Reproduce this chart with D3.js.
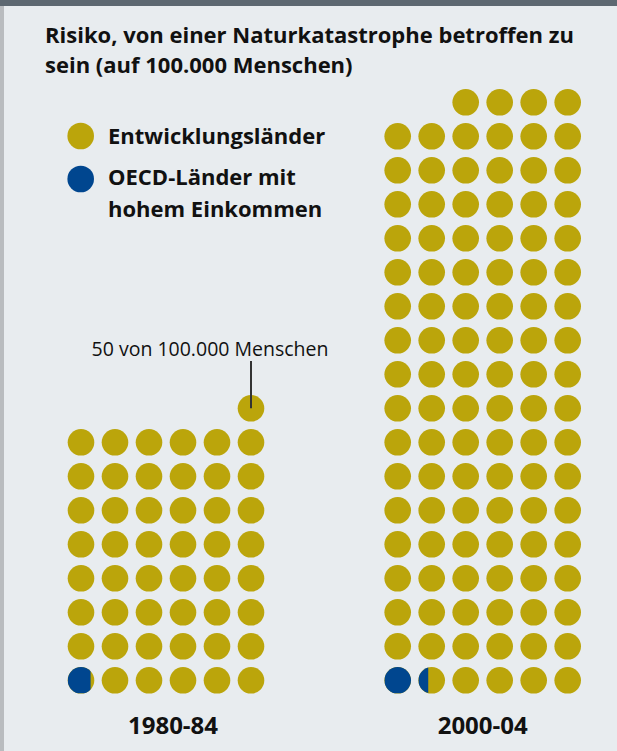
<!DOCTYPE html>
<html>
<head>
<meta charset="utf-8">
<script src="https://cdn.jsdelivr.net/npm/d3@7"></script>
<style>
  html, body { margin: 0; padding: 0; background: #e8ecef; }
  svg { display: block; }
  text { font-family: "Open Sans", "Noto Sans", sans-serif; fill: #111; }
</style>
</head>
<body>
<svg id="chart" width="617" height="751"></svg>
<script>
// Risk of being affected by a natural disaster, per 100,000 people
const periods = ["1980-84", "2000-04"];
const oecdRisk = [0.86, 1.37];          // high-income OECD countries
const developingRisk = [48.14, 104.63]; // developing countries
const seriesNames = ["Entwicklungsländer", "OECD-Länder mit hohem Einkommen"];
const titleLines = ["Risiko, von einer Naturkatastrophe betroffen zu", "sein (auf 100.000 Menschen)"];
const annotationText = "50 von 100.000 Menschen";

const colors = { developing: "#bba50b", oecd: "#00468f" };
const W = 617, H = 751;
const perRow = 6;
const r = 13.3;

const svg = d3.select("#chart");

// background, top bar and left rule
svg.append("rect").attr("width", W).attr("height", H).attr("fill", "#e8ecef");
svg.append("rect").attr("width", W).attr("height", 6).attr("fill", "#5d6871");
svg.append("rect").attr("y", 6).attr("width", 4).attr("height", H - 6).attr("fill", "#b9bcbf");

// title
svg.append("text")
  .attr("x", 45).attr("y", 43)
  .style("font-weight", 700).style("font-size", "22px")
  .selectAll("tspan").data(titleLines).join("tspan")
  .attr("x", 45).attr("dy", (d, i) => i === 0 ? 0 : 29.5)
  .text(d => d);

// legend
const legend = svg.append("g");
const legendItems = [
  { color: colors.developing, lines: [seriesNames[0]], cy: 136, base: 144 },
  { color: colors.oecd, lines: ["OECD-Länder mit", "hohem Einkommen"], cy: 179, base: 185 }
];
legendItems.forEach(item => {
  legend.append("circle").attr("cx", 80.7).attr("cy", item.cy).attr("r", r).attr("fill", item.color);
  legend.append("text")
    .attr("x", 108).attr("y", item.base)
    .style("font-weight", 700).style("font-size", "22px")
    .selectAll("tspan").data(item.lines).join("tspan")
    .attr("x", 108).attr("dy", (d, i) => i === 0 ? 0 : 32)
    .text(d => d);
});

// scales
const maxRows = Math.ceil(d3.max(periods, (p, i) => oecdRisk[i] + developingRisk[i]) / perRow);
const y = d3.scaleLinear().domain([0, maxRows - 1]).range([680.3, 102.3]);
const groupX = [
  d3.scalePoint().domain(d3.range(perRow)).range([81, 251]),
  d3.scalePoint().domain(d3.range(perRow)).range([397.7, 567.7])
];
const labelX = [173, 482.7];

const defs = svg.append("defs");

periods.forEach((period, pi) => {
  const total = oecdRisk[pi] + developingRisk[pi];
  const nDots = Math.round(total);
  const x = groupX[pi];
  const g = svg.append("g");
  const dots = d3.range(nDots).map(k => ({
    k,
    col: k % perRow,
    row: Math.floor(k / perRow),
    blue: Math.max(0, Math.min(1, oecdRisk[pi] - k))
  }));
  // top row is right-aligned
  const lastRowCount = nDots % perRow;
  dots.forEach(d => {
    if (lastRowCount && d.row === Math.floor((nDots - 1) / perRow)) {
      d.col = perRow - lastRowCount + (d.k % perRow);
    }
  });

  g.selectAll("circle.dev").data(dots).join("circle")
    .attr("class", "dev")
    .attr("cx", d => x(d.col)).attr("cy", d => y(d.row)).attr("r", r)
    .attr("fill", colors.developing);

  dots.filter(d => d.blue > 0).forEach(d => {
    const id = `clip-${pi}-${d.k}`;
    defs.append("clipPath").attr("id", id).append("rect")
      .attr("x", x(d.col) - r).attr("y", y(d.row) - r)
      .attr("width", d.blue * 2 * r).attr("height", 2 * r);
    g.append("circle")
      .attr("cx", x(d.col)).attr("cy", y(d.row)).attr("r", r)
      .attr("fill", colors.oecd)
      .attr("clip-path", `url(#${id})`);
  });

  svg.append("text")
    .attr("x", labelX[pi]).attr("y", 734)
    .attr("text-anchor", "middle")
    .style("font-weight", 700).style("font-size", "24px")
    .text(period);

  if (pi === 0) {
    const top = dots[dots.length - 1];
    svg.append("line")
      .attr("x1", x(top.col)).attr("x2", x(top.col))
      .attr("y1", 361).attr("y2", y(top.row))
      .attr("stroke", "#333").attr("stroke-width", 2);
    svg.append("text")
      .attr("x", 210).attr("y", 356)
      .attr("text-anchor", "middle")
      .style("font-size", "19.5px")
      .text(annotationText);
  }
});
</script>
</body>
</html>
